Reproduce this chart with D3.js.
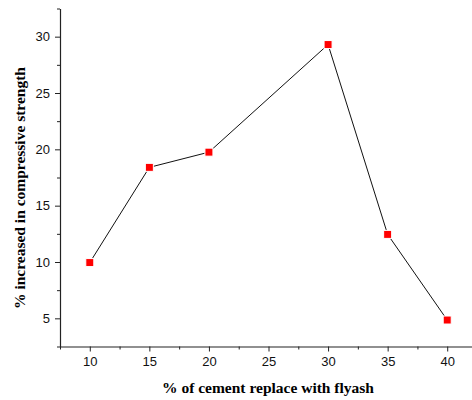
<!DOCTYPE html>
<html><head><meta charset="utf-8">
<script src="https://cdn.jsdelivr.net/npm/d3@7"></script>
<style>body{margin:0;background:#fff}svg{display:block}</style>
</head><body>
<svg id="c" width="472" height="400"></svg>
<script>
const xValues = [10, 15, 20, 30, 35, 40];
const yValues = [9.95, 18.4, 19.75, 29.3, 12.45, 4.85];
const xTicks = [10, 15, 20, 25, 30, 35, 40];
const yTicks = [5, 10, 15, 20, 25, 30];
const xTitle = "% of cement replace with flyash";
const yTitle = "% increased in compressive strength";

const svg = d3.select("#c");
const x = d3.scaleLinear().domain([7.5, 42.5]).range([60, 477]);
const y = d3.scaleLinear().domain([2.5, 32.5]).range([346.5, 8.5]);

const axCol = "#222";
const xMinor = d3.range(7.5, 43, 2.5).filter(v => !xTicks.includes(v));
const yMinor = d3.range(2.5, 33, 2.5).filter(v => !yTicks.includes(v));

const gx = svg.append("g").attr("transform", "translate(0,346.5)");
gx.call(d3.axisBottom(x).tickValues(xMinor).tickSize(3).tickFormat(""));
gx.selectAll(".tick line").attr("stroke", axCol);
gx.select(".domain").remove();
const gx2 = svg.append("g").attr("transform", "translate(0,346.5)");
gx2.call(d3.axisBottom(x).tickValues(xTicks).tickSize(5).tickSizeOuter(0).tickPadding(5).tickFormat(d3.format("d")));
gx2.selectAll(".domain").attr("stroke", axCol).attr("stroke-width", 1.2);
gx2.selectAll(".tick line").attr("stroke", axCol);
gx2.selectAll("text").attr("font-family", "Liberation Sans, Arial, sans-serif").attr("font-size", 13).attr("fill", "#111");

const gy = svg.append("g").attr("transform", "translate(60,0)");
gy.call(d3.axisLeft(y).tickValues(yMinor).tickSize(3).tickFormat(""));
gy.selectAll(".tick line").attr("stroke", axCol);
gy.select(".domain").remove();
const gy2 = svg.append("g").attr("transform", "translate(60,0)");
gy2.call(d3.axisLeft(y).tickValues(yTicks).tickSize(5).tickSizeOuter(0).tickPadding(5).tickFormat(d3.format("d")));
gy2.selectAll(".domain").attr("stroke", axCol).attr("stroke-width", 1.2);
gy2.selectAll(".tick line").attr("stroke", axCol);
gy2.selectAll("text").attr("font-family", "Liberation Sans, Arial, sans-serif").attr("font-size", 13).attr("fill", "#111");

const data = xValues.map((v, i) => ({x: v, y: yValues[i]}));
svg.append("path").datum(data)
  .attr("fill", "none").attr("stroke", "#111").attr("stroke-width", 1)
  .attr("d", d3.line().x(d => x(d.x)).y(d => y(d.y)));

svg.selectAll("rect.pt").data(data).enter().append("rect")
  .attr("class", "pt")
  .attr("x", d => x(d.x) - 4).attr("y", d => y(d.y) - 4)
  .attr("width", 8).attr("height", 8)
  .attr("fill", "#ff0000").attr("stroke", "#fff").attr("stroke-width", 1);

svg.append("text").attr("x", 268).attr("y", 393).attr("text-anchor", "middle")
  .attr("font-family", "Liberation Serif, Times New Roman, serif").attr("font-weight", "bold").attr("font-size", 15.5)
  .text(xTitle);
svg.append("text").attr("transform", "translate(25,188) rotate(-90)").attr("text-anchor", "middle")
  .attr("font-family", "Liberation Serif, Times New Roman, serif").attr("font-weight", "bold").attr("font-size", 15.5)
  .text(yTitle);
</script>
</body></html>
